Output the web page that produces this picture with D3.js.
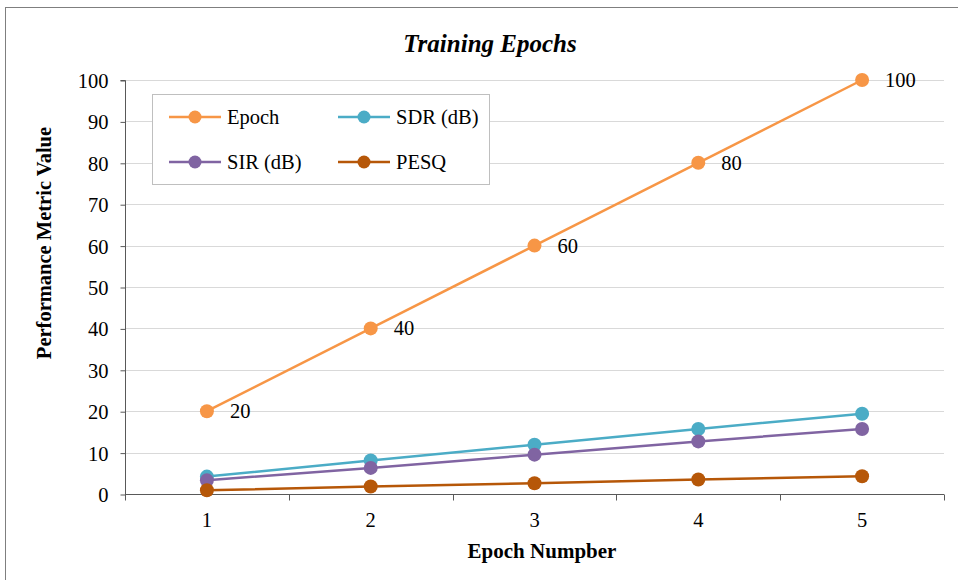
<!DOCTYPE html>
<html>
<head>
<meta charset="utf-8">
<script src="https://cdn.jsdelivr.net/npm/d3@7"></script>
<style>
  html, body { margin: 0; padding: 0; background: #fff; }
</style>
</head>
<body>
<svg id="chart" width="958" height="580"></svg>
<script>
// Training metrics per epoch
const epochs = [1, 2, 3, 4, 5];
const epochValues = [20, 40, 60, 80, 100];
const sdrValues = [4.2, 8.1, 11.9, 15.7, 19.4];
const sirValues = [3.3, 6.3, 9.5, 12.7, 15.7];
const pesqValues = [0.9, 1.8, 2.6, 3.5, 4.3];
const yTicks = [0, 10, 20, 30, 40, 50, 60, 70, 80, 90, 100];

const series = [
  { name: "Epoch", values: epochValues, color: "#f79646", labels: true },
  { name: "SDR (dB)", values: sdrValues, color: "#4bacc6" },
  { name: "SIR (dB)", values: sirValues, color: "#8064a2" },
  { name: "PESQ", values: pesqValues, color: "#b65708" }
];

const FONT = '"Liberation Serif"';
const svg = d3.select("#chart");
const margin = { left: 125, right: 14, top: 80, bottom: 86 };
const W = 958, H = 580;

// Outer chart frame
svg.append("rect")
  .attr("x", 5.5).attr("y", 7.5)
  .attr("width", 1000).attr("height", 1000)
  .attr("fill", "none").attr("stroke", "#7f7f7f").attr("stroke-width", 1);

const x = d3.scaleBand().domain(epochs).range([margin.left, W - margin.right]);
const y = d3.scaleLinear().domain([0, 100]).range([H - margin.bottom, margin.top]);

// Horizontal gridlines
svg.append("g").selectAll("line").data(yTicks.filter(d => d > 0)).join("line")
  .attr("x1", margin.left).attr("x2", W - margin.right)
  .attr("y1", d => Math.round(y(d)) + 0.5).attr("y2", d => Math.round(y(d)) + 0.5)
  .attr("stroke", "#d9d9d9").attr("stroke-width", 1);

// Y axis
const yAxis = svg.append("g")
  .attr("transform", `translate(${margin.left + 0.5},0.5)`)
  .call(d3.axisLeft(y).tickValues(yTicks).tickSize(5).tickPadding(12));
yAxis.attr("font-family", null);
yAxis.select(".domain").attr("stroke", "#595959").attr("d", `M-5,${y(100)}H0V${y(0)}`);
yAxis.selectAll(".tick line").attr("stroke", "#595959");
yAxis.selectAll("text").attr("font-size", 20.5).attr("fill", "#000").attr("dy", "0.34em");

// X axis: ticks at category boundaries, labels at centres
const xg = svg.append("g").attr("transform", `translate(0,${Math.round(y(0)) + 0.5})`);
xg.append("line").attr("x1", margin.left).attr("x2", W - margin.right)
  .attr("stroke", "#595959");
const bounds = epochs.map(e => x(e)).concat([x(epochs[epochs.length - 1]) + x.bandwidth()]);
xg.selectAll("line.tk").data(bounds).join("line").attr("class", "tk")
  .attr("x1", d => Math.round(d) + 0.5).attr("x2", d => Math.round(d) + 0.5)
  .attr("y1", 0).attr("y2", 6).attr("stroke", "#595959");
xg.selectAll("text").data(epochs).join("text")
  .attr("x", d => x(d) + x.bandwidth() / 2).attr("y", 32)
  .attr("text-anchor", "middle").attr("font-size", 20.5).text(d => d);

// Lines and markers
const cx = d => x(d) + x.bandwidth() / 2;
const line = d3.line().x((v, i) => cx(epochs[i])).y(v => y(v));
series.forEach(s => {
  svg.append("path").datum(s.values).attr("d", line)
    .attr("fill", "none").attr("stroke", s.color).attr("stroke-width", 2.5);
  svg.append("g").selectAll("circle").data(s.values).join("circle")
    .attr("cx", (v, i) => cx(epochs[i])).attr("cy", v => y(v)).attr("r", 7)
    .attr("fill", s.color);
  if (s.labels) {
    svg.append("g").selectAll("text").data(s.values).join("text")
      .attr("x", (v, i) => cx(epochs[i]) + 23).attr("y", v => y(v) + 7)
      .attr("font-size", 20.5).text(v => v);
  }
});

// Title and axis titles
svg.append("text").attr("x", 490).attr("y", 52).attr("text-anchor", "middle")
  .attr("font-size", 25).attr("font-weight", "bold").attr("font-style", "italic")
  .text("Training Epochs");
svg.append("text").attr("x", 542).attr("y", 558)
  .attr("text-anchor", "middle").attr("font-size", 21).attr("font-weight", "bold")
  .text("Epoch Numpber");
svg.append("text").attr("transform", "translate(51,243) rotate(-90)")
  .attr("text-anchor", "middle").attr("font-size", 20.5).attr("font-weight", "bold")
  .text("Performance Metric Value");

// Legend
const lg = svg.append("g");
lg.append("rect").attr("x", 152.5).attr("y", 94.5).attr("width", 337).attr("height", 90)
  .attr("fill", "#fff").attr("stroke", "#bfbfbf");
const pos = [[169, 117], [338, 117], [169, 162], [338, 162]];
series.forEach((s, i) => {
  const [lx, ly] = pos[i];
  lg.append("line").attr("x1", lx).attr("x2", lx + 52).attr("y1", ly).attr("y2", ly)
    .attr("stroke", s.color).attr("stroke-width", 2.5);
  lg.append("circle").attr("cx", lx + 26).attr("cy", ly).attr("r", 6.5).attr("fill", s.color);
  lg.append("text").attr("x", lx + 58).attr("y", ly + 7).attr("font-size", 20.5).text(s.name);
});

// Serif typeface throughout
svg.selectAll("text").style("font-family", FONT);
</script>
</body>
</html>
